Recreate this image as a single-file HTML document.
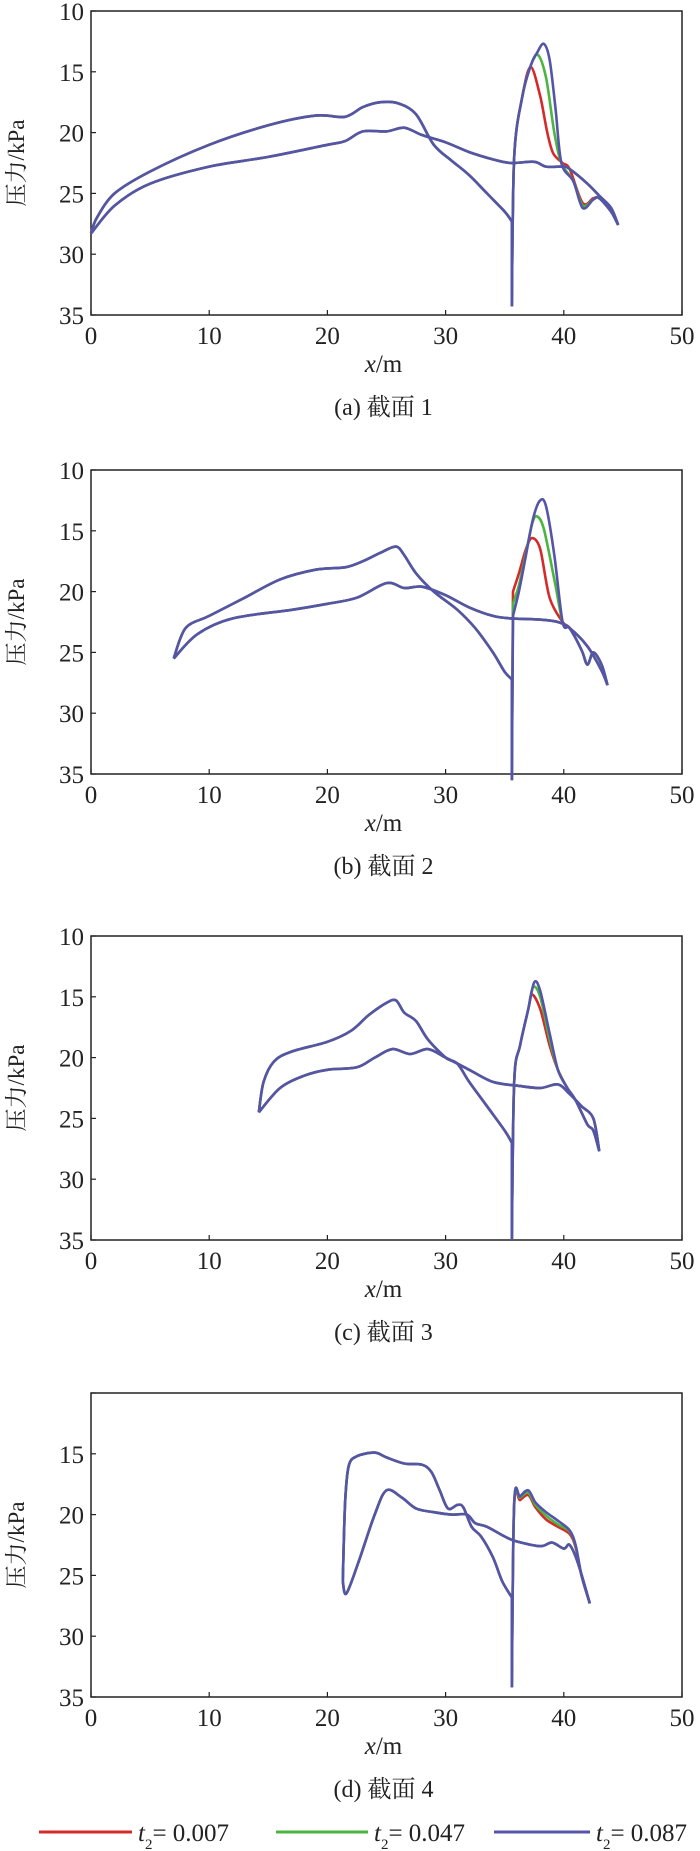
<!DOCTYPE html>
<html><head><meta charset="utf-8">
<style>
html,body{margin:0;padding:0;background:#fff;}
svg{display:block;}
text{font-family:"Liberation Serif","Noto Serif CJK SC",serif;fill:#222;}
</style></head>
<body>
<svg id="chart" width="700" height="1851" viewBox="0 0 700 1851"></svg>
<script>
// ---- data ----
const xTicks = [0,10,20,30,40,50];
const yTicks = [10,15,20,25,30,35];
const captions = ["(a) 截面 1","(b) 截面 2","(c) 截面 3","(d) 截面 4"];
const seriesNames = ["t2 = 0.007","t2 = 0.047","t2 = 0.087"];
const seriesColors = ["#d42a2a","#4cb540","#5455a8"];

// panel a
const aUpX = [0,0.5,2,5,10,15,19,21.5,23,24.5,26,27.5,29,30.5,32,33.5,35,35.6,35.6];
const aUpY = [28.3,27,25,23.2,21,19.4,18.6,18.7,17.9,17.5,17.6,18.5,21,22.3,23.5,25,26.5,27.3,34.3];
const aLoX = [0,2,5,10,15,20,21.5,23,25,26.5,28,30,32,34,35.5,37.5,38.5,40,40.5,42,43,44,44.6];
const aLoY = [28.3,26,24.2,22.8,22,21,20.7,19.9,19.9,19.6,20.2,20.8,21.6,22.2,22.5,22.4,22.8,22.8,23,24.2,25.2,26.2,27.6];
const aSpX0 = [35.6,35.8,36.5,37.2,38.0,38.6,39.1,39.9,40.5,41.6,42.5,43,44,44.6];
const aSpY0 = [34.3,22,17,14.6,17,20,21.7,22.5,23.0,25.8,25.4,25.4,26.5,27.6];
const aSpX1 = [35.6,35.8,36.5,37.2,37.8,38.5,39.2,39.8,40.8,41.6,42.5,43,44,44.6];
const aSpY1 = [34.3,22,17,14.5,13.6,15.5,20,22.5,24,26.0,25.5,25.4,26.5,27.6];
const aSpX2 = [35.6,35.8,36.5,37.2,37.7,38.3,38.8,39.3,39.8,40.8,41.6,42.5,43,44,44.6];
const aSpY2 = [34.3,22,17,14.5,13.5,12.7,14,18,22.5,24,26.2,25.5,25.4,26.5,27.6];

// panel b
const bUpX = [7,8,10,13,16,19,21.5,23,24.5,25.8,26.5,27.5,29,31,32.5,34,35,35.6,35.6];
const bUpY = [25.5,23,22,20.5,19,18.2,18,17.5,16.8,16.3,17,18.5,20,21.5,23,25,26.6,27.2,35.5];
const bLoX = [7,9,12,17,20,22.5,25,26.5,28,30,32,34,35.5,38,39.5,40.5,42,43.2,43.7];
const bLoY = [25.5,23.5,22.2,21.5,21,20.5,19.3,19.7,19.6,20.3,21.3,22,22.2,22.3,22.5,23,24.5,26.5,27.7];
const bSpX0 = [35.6,35.7,36.2,36.8,37.3,38.0,38.8,39.9,40.5,41.5,42,42.5,43.2,43.7];
const bSpY0 = [35.5,20,18.5,16.5,15.6,16.5,20.5,22.5,23,24.8,26,25,26,27.7];
const bSpX1 = [35.6,35.7,36.2,36.8,37.3,37.7,38.3,39.2,39.9,40.5,41.5,42,42.5,43.2,43.7];
const bSpY1 = [35.5,21,19.5,16.8,14.5,13.8,14.8,19,22.5,23,24.8,26,25,26,27.7];
const bSpX2 = [35.6,35.7,36.2,36.8,37.4,38.0,38.5,39.2,39.9,40.5,41.5,42,42.5,43.2,43.7];
const bSpY2 = [35.5,22,20,17,14,12.5,13,17,22.5,23,24.8,26,25,26,27.7];

// panel c
const cUpX = [14.2,14.6,15.5,17,20,22,23.5,25,25.8,26.5,27.5,28.5,30,31,32,33.5,35,35.6,35.6];
const cUpY = [24.5,22,20.3,19.5,18.7,17.8,16.5,15.5,15.3,16.3,17,18.5,20,20.5,22,24,26,27,35];
const cLoX = [14.2,16,18,20,22.5,24,25.5,27,28.5,30,32,34,36,38,39.5,40.5,41.5,42.5,43];
const cLoY = [24.5,22.5,21.5,21,20.8,20,19.3,19.7,19.3,20,21,22,22.3,22.5,22.2,23,24,25,27.7];
const cSpX0 = [35.6,35.8,36.3,37.0,37.3,38.0,38.8,39.5,40.3,41,42,42.5,43];
const cSpY0 = [35,22,19,16,14.8,16,19,21,22.5,23.5,25.5,26,27.7];
const cSpX1 = [35.6,35.8,36.3,37.0,37.4,38.0,38.8,39.5,40.3,41,42,42.5,43];
const cSpY1 = [35,22,19,16,14.2,15,18.5,21,22.5,23.5,25.5,26,27.7];
const cSpX2 = [35.6,35.8,36.3,37.0,37.5,38.0,38.8,39.5,40.3,41,42,42.5,43];
const cSpY2 = [35,22,19,16,13.8,14.5,18,21,22.5,23.5,25.5,26,27.7];

// panel d
const dUpX = [21.3,21.5,21.8,22.5,24,25,26.5,28,28.8,29.5,30.2,31,31.5,32.2,33,34,34.8,35.6,35.6];
const dUpY = [25.5,19,16,15.2,14.9,15.3,15.8,15.9,16.5,18,19.5,19.2,19.4,21,21.8,23.5,25.5,26.8,34.2];
const dLoX = [21.3,21.6,22.6,24,25,26.3,27.5,29,30.5,31.8,32.5,33.5,35,36,38,39,40,40.5,41.2,42.2];
const dLoY = [25.5,26.5,24,20,18,18.6,19.5,19.8,20,20,20.7,21,21.8,22.2,22.6,22.3,22.8,22.5,24,27.3];
const dSpX0 = [35.6,35.8,36.3,37,37.6,38.5,39.5,40.5,41,41.5,42.2];
const dSpY0 = [34.2,19.2,18.8,18.4,19.4,20.4,21,21.6,22.7,25,27.3];
const dSpX1 = [35.6,35.8,36.3,37,37.6,38.5,39.5,40.5,41,41.5,42.2];
const dSpY1 = [34.2,19.1,18.6,18.2,19.2,20.1,20.8,21.4,22.6,25,27.3];
const dSpX2 = [35.6,35.8,36.3,37,37.6,38.5,39.5,40.5,41,41.5,42.2];
const dSpY2 = [34.2,19,18.5,18,19,19.8,20.5,21.3,22.5,25,27.3];

const panels = [
  {up:[aUpX,aUpY],lo:[aLoX,aLoY],sp:[[aSpX0,aSpY0],[aSpX1,aSpY1],[aSpX2,aSpY2]],showTop:true},
  {up:[bUpX,bUpY],lo:[bLoX,bLoY],sp:[[bSpX0,bSpY0],[bSpX1,bSpY1],[bSpX2,bSpY2]],showTop:true},
  {up:[cUpX,cUpY],lo:[cLoX,cLoY],sp:[[cSpX0,cSpY0],[cSpX1,cSpY1],[cSpX2,cSpY2]],showTop:true},
  {up:[dUpX,dUpY],lo:[dLoX,dLoY],sp:[[dSpX0,dSpY0],[dSpX1,dSpY1],[dSpX2,dSpY2]],showTop:false}
];
const panelTops = [11,470,936,1393];

// ---- drawing ----
const NS="http://www.w3.org/2000/svg";
const svg=document.getElementById('chart');
function mk(tag,attrs,parent){const e=document.createElementNS(NS,tag);for(const k in attrs)e.setAttribute(k,attrs[k]);(parent||svg).appendChild(e);return e;}
function isVert(a,b){return a&&b&&Math.abs(b[0]-a[0])<1.5;}
function smooth(P){
  const t=0.16;
  const f=p=>p[0].toFixed(1)+','+p[1].toFixed(1);
  let d='M'+f(P[0]);
  for(let i=0;i<P.length-1;i++){
    const p1=P[i],p2=P[i+1];
    if(isVert(p1,p2)){d+=' L'+f(p2);continue;}
    let p0=P[i-1]||p1, p3=P[i+2]||p2;
    if(isVert(p0,p1))p0=p1;
    if(isVert(p2,p3))p3=p2;
    const c1=[p1[0]+(p2[0]-p0[0])*t,p1[1]+(p2[1]-p0[1])*t];
    const c2=[p2[0]-(p3[0]-p1[0])*t,p2[1]-(p3[1]-p1[1])*t];
    d+=' C'+f(c1)+' '+f(c2)+' '+f(p2);
  }
  return d;
}
const X0=91,X1=682,H=304;
panels.forEach((p,pi)=>{
  const top=panelTops[pi], bot=top+H;
  const g=mk('g',{});
  
  
  const xs=v=>X0+(v-0)/50*(X1-X0);
  const ys=v=>top+(v-10)/25*H;
  const fr=mk('rect',{x:X0,y:top,width:X1-X0,height:H,fill:'none',stroke:'#222','stroke-width':1.5},g);
  
  
  xTicks.forEach(t=>{
    const x=xs(t);
    mk('line',{x1:x,y1:bot,x2:x,y2:bot-5,stroke:'#222','stroke-width':1.2},g);
    const tx=mk('text',{x:x,y:bot+29,'text-anchor':'middle','font-size':25},g);
    tx.textContent=t;
    
    
  });
  yTicks.forEach(t=>{
    const y=ys(t);
    mk('line',{x1:X0,y1:y,x2:X0+5,y2:y,stroke:'#222','stroke-width':1.2},g);
    if(t===10&&!p.showTop)return;
    const tx=mk('text',{x:X0-7,y:y+9,'text-anchor':'end','font-size':25},g);
    tx.textContent=t;
    
    
  });
  const yl=mk('text',{x:0,y:0,'text-anchor':'middle','font-size':23,transform:`translate(${24},${top+H/2}) rotate(-90)`},g);
  yl.textContent='压力/kPa';
  
  
  const xl=mk('text',{x:(X0+X1)/2-3,y:bot+57,'text-anchor':'middle','font-size':25},g);
  xl.innerHTML='<tspan font-style="italic">x</tspan>/m';
  
  
  const cp=mk('text',{x:(X0+X1)/2-3,y:bot+100,'text-anchor':'middle','font-size':24},g);
  cp.textContent=captions[pi];
  
  
  const pts=(A,B)=>A.map((v,i)=>[xs(v),ys(B[i])]);
  [0,1,2].forEach(si=>{
    const upP=mk('path',{d:smooth(pts(p.up[0],p.up[1])),fill:'none',stroke:seriesColors[si],'stroke-width':2.6,'stroke-linejoin':'round'},g);
    
    
    const loP=mk('path',{d:smooth(pts(p.lo[0],p.lo[1])),fill:'none',stroke:seriesColors[si],'stroke-width':2.6,'stroke-linejoin':'round'},g);
    
    
    const spP=mk('path',{d:smooth(pts(p.sp[si][0],p.sp[si][1])),fill:'none',stroke:seriesColors[si],'stroke-width':2.6,'stroke-linejoin':'round'},g);
    
    
  });
});
// legend
const legX=[[39,132,138],[276,368,374],[494,590,596]];
const LY=1832;
seriesNames.forEach((n,i)=>{
  const g=mk('g',{});
  
  
  mk('line',{x1:legX[i][0],y1:LY,x2:legX[i][1],y2:LY,stroke:seriesColors[i],'stroke-width':3},g);
  const t=mk('text',{x:legX[i][2],y:LY+9,'font-size':25},g);
  t.innerHTML='<tspan font-style="italic">t</tspan><tspan font-size="15" dy="8">2</tspan><tspan dy="-8">= '+n.split('= ')[1]+'</tspan>';
});
</script>
</body></html>
